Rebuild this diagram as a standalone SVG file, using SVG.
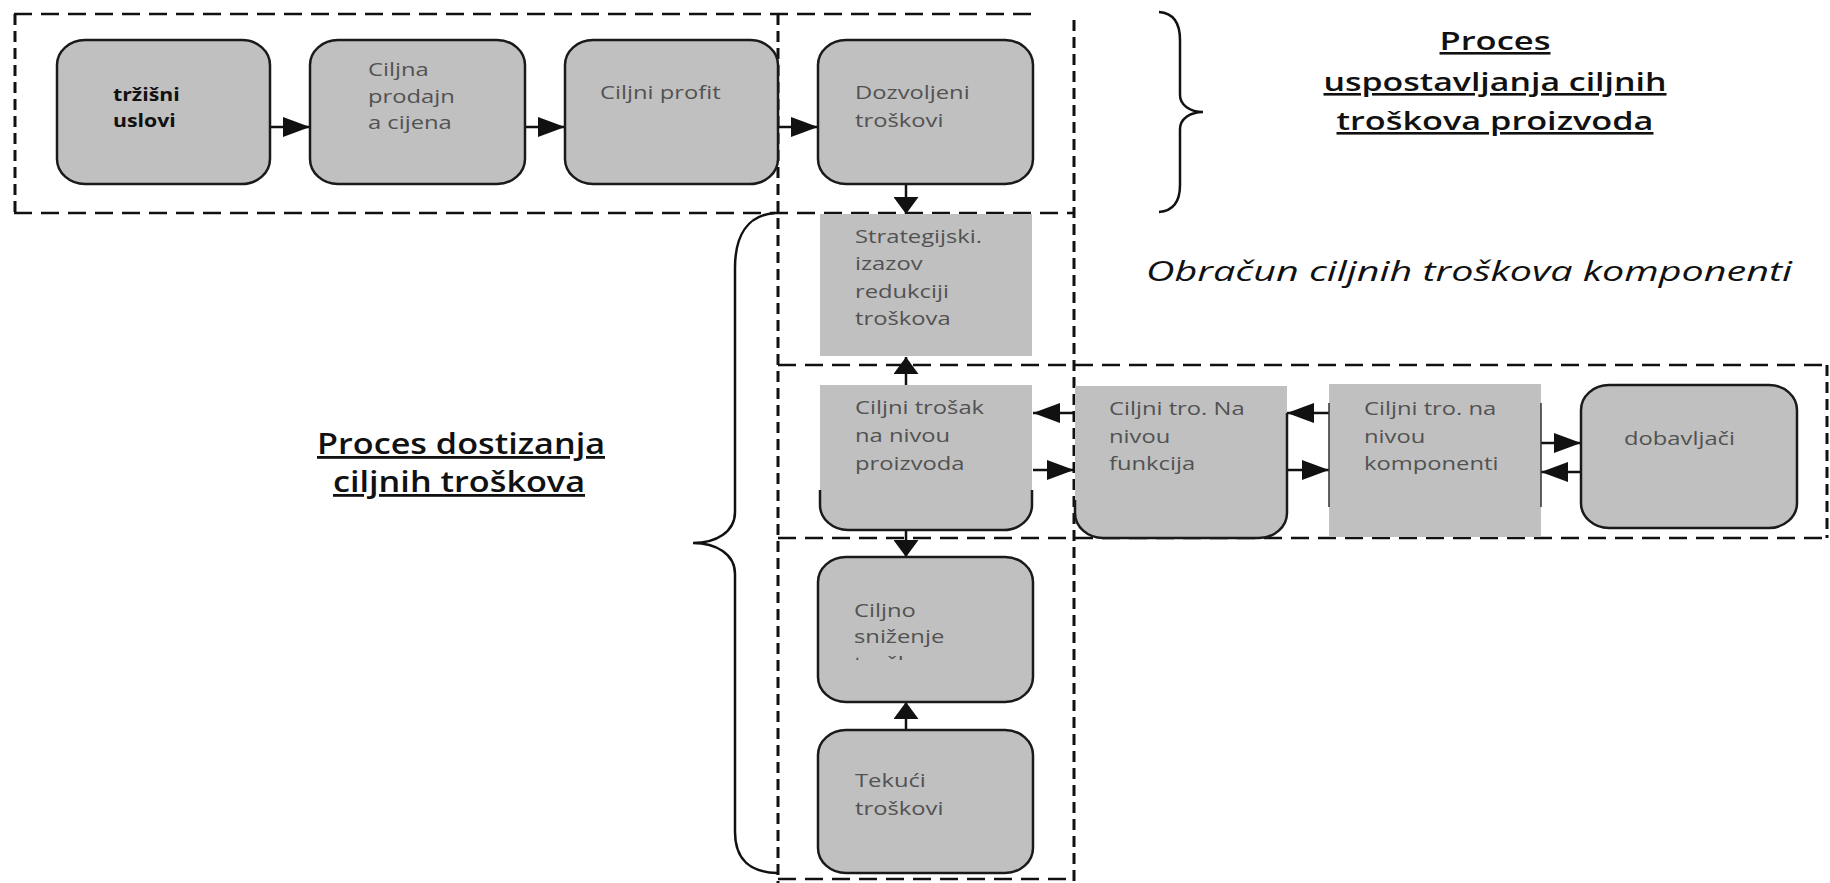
<svg xmlns="http://www.w3.org/2000/svg" width="1830" height="883" viewBox="0 0 1830 883">
<style>
.box{fill:#c0c0c0;stroke:#1a1a1a;stroke-width:2.5}
.fill{fill:#c0c0c0;stroke:none}
.edge{fill:none;stroke:#1a1a1a;stroke-width:2.5}
.thin{fill:none;stroke:#333;stroke-width:1.5}
.lbl{font-family:"Open Sans","Liberation Sans",sans-serif;font-size:19px;fill:#525252}
.bold{font-family:"Open Sans","Liberation Sans",sans-serif;font-size:17px;font-weight:700;fill:#111}
.title{font-family:"Open Sans","Liberation Sans",sans-serif;font-weight:600;fill:#111;text-decoration:underline}
.dh{stroke:#111;stroke-width:2.5;stroke-dasharray:18 9;fill:none}
.dv{stroke:#111;stroke-width:3;stroke-dasharray:11 6;fill:none}
.conn{stroke:#111;stroke-width:2.5;fill:none}
.brace{stroke:#111;stroke-width:2.5;fill:none}
</style>
<defs>
<marker id="ah" markerUnits="userSpaceOnUse" markerWidth="27" markerHeight="20" refX="27" refY="10" orient="auto" viewBox="0 0 27 20"><path d="M0,0 L27,10 L0,20 z" fill="#111"/></marker>
<marker id="av" markerUnits="userSpaceOnUse" markerWidth="17" markerHeight="25" refX="17" refY="12.5" orient="auto" viewBox="0 0 17 25"><path d="M0,0 L17,12.5 L0,25 z" fill="#111"/></marker>
<clipPath id="clipCiljno"><rect x="818" y="557" width="215" height="103"/></clipPath>
</defs>
<rect width="1830" height="883" fill="#fff"/>

<g id="frames">
<path class="dh" d="M14,14 H1031"/>
<path class="dv" d="M15,14 V213"/>
<path class="dh" d="M14,213 H1074"/>
<path class="dv" d="M778,14 V883"/>
<path class="dv" d="M1074,20 V883"/>
<path class="dh" d="M778,365 H1830"/>
<path class="dh" d="M778,538 H1830"/>
<path class="dh" d="M778,879 H1074"/>
<path class="dv" d="M1827,365 V538"/>
</g>

<g id="braces">
<path class="brace" d="M1159,12 C1172,13 1180,22 1180,40 L1180,95 C1180,105 1190,112 1203,112 C1190,112 1180,119 1180,129 L1180,185 C1180,203 1172,211 1159,212"/>
<path class="brace" d="M775,213 C748,215 735,235 735,268 L735,512 C735,532 716,543 693,543 C716,543 735,554 735,574 L735,832 C735,860 750,872 777,873"/>
</g>

<g id="titles">
<text class="title" font-size="26" text-anchor="middle" x="1495" y="50" textLength="111" lengthAdjust="spacingAndGlyphs">Proces</text>
<text class="title" font-size="26" text-anchor="middle" x="1495" y="91" textLength="343" lengthAdjust="spacingAndGlyphs">uspostavljanja ciljnih</text>
<text class="title" font-size="26" text-anchor="middle" x="1495" y="130" textLength="317" lengthAdjust="spacingAndGlyphs">troškova proizvoda</text>
<text class="title" font-size="28" text-anchor="middle" x="461" y="454" textLength="288" lengthAdjust="spacingAndGlyphs">Proces dostizanja</text>
<text class="title" font-size="28" text-anchor="middle" x="459" y="492" textLength="252" lengthAdjust="spacingAndGlyphs">ciljnih troškova</text>
<text font-family="'Open Sans','Liberation Sans',sans-serif" font-size="28" font-style="italic" font-weight="500" fill="#111" x="1146" y="281" textLength="646" lengthAdjust="spacingAndGlyphs">Obračun ciljnih troškova komponenti</text>
</g>

<g id="connectors">
<path class="conn" d="M270,127 H310" marker-end="url(#ah)"/>
<path class="conn" d="M525,127 H565" marker-end="url(#ah)"/>
<path class="conn" d="M778,127 H818" marker-end="url(#ah)"/>
<path class="conn" d="M906,184 V214" marker-end="url(#av)"/>
<path class="conn" d="M906,385 V357" marker-end="url(#av)"/>
<path class="conn" d="M1074,413 H1033" marker-end="url(#ah)"/>
<path class="conn" d="M1033,470 H1074" marker-end="url(#ah)"/>
<path class="conn" d="M906,530 V557" marker-end="url(#av)"/>
<path class="conn" d="M1329,413 H1287" marker-end="url(#ah)"/>
<path class="conn" d="M1287,470 H1329" marker-end="url(#ah)"/>
<path class="conn" d="M1541,443 H1581" marker-end="url(#ah)"/>
<path class="conn" d="M1581,472 H1541" marker-end="url(#ah)"/>
<path class="conn" d="M906,730 V702" marker-end="url(#av)"/>
</g>

<g id="trzisni-uslovi">
<rect class="box" x="57" y="40" width="213" height="144" rx="28" ry="25"/>
<text class="bold" transform="matrix(1.25 0 0 1 113 0)"><tspan x="0" y="101">tržišni</tspan><tspan x="0" y="127">uslovi</tspan></text>
</g>

<g id="ciljna-prodajna-cijena">
<rect class="box" x="310" y="40" width="215" height="144" rx="28" ry="25"/>
<text class="lbl" transform="matrix(1.25 0 0 1 368 0)"><tspan x="0" y="76">Ciljna</tspan><tspan x="0" y="103">prodajn</tspan><tspan x="0" y="129">a cijena</tspan></text>
</g>

<g id="ciljni-profit">
<rect class="box" x="565" y="40" width="213" height="144" rx="28" ry="25"/>
<text class="lbl" transform="matrix(1.25 0 0 1 600 0)"><tspan x="0" y="99">Ciljni profit</tspan></text>
</g>

<g id="dozvoljeni-troskovi">
<rect class="box" x="818" y="40" width="215" height="144" rx="28" ry="25"/>
<text class="lbl" transform="matrix(1.25 0 0 1 855 0)"><tspan x="0" y="99">Dozvoljeni</tspan><tspan x="0" y="127">troškovi</tspan></text>
</g>

<g id="strategijski-izazov">
<rect class="fill" x="820" y="214" width="212" height="142"/>
<text class="lbl" transform="matrix(1.25 0 0 1 855 0)"><tspan x="0" y="243">Strategijski.</tspan><tspan x="0" y="270">izazov</tspan><tspan x="0" y="298">redukciji</tspan><tspan x="0" y="325">troškova</tspan></text>
</g>

<g id="ciljni-trosak-proizvoda">
<path class="fill" d="M820,385 H1032 V505 A28,25 0 0 1 1004,530 H848 A28,25 0 0 1 820,505 Z"/>
<path class="edge" d="M820,490 V505 A28,25 0 0 0 848,530 H1004 A28,25 0 0 0 1032,505 V490"/>
<text class="lbl" transform="matrix(1.25 0 0 1 855 0)"><tspan x="0" y="414">Ciljni trošak</tspan><tspan x="0" y="442">na nivou</tspan><tspan x="0" y="470">proizvoda</tspan></text>
</g>

<g id="ciljni-tro-funkcija">
<path class="fill" d="M1075,386 H1287 V513 A28,25 0 0 1 1259,538 H1103 A28,25 0 0 1 1075,513 Z"/>
<path class="edge" d="M1075,500 V513 A28,25 0 0 0 1103,538 H1259 A28,25 0 0 0 1287,513 V413"/>
<text class="lbl" transform="matrix(1.25 0 0 1 1109 0)"><tspan x="0" y="415">Ciljni tro. Na</tspan><tspan x="0" y="443">nivou</tspan><tspan x="0" y="470">funkcija</tspan></text>
</g>

<g id="ciljni-tro-komponenti">
<rect class="fill" x="1329" y="384" width="212" height="153"/>
<path class="thin" d="M1329,403 V507 M1541,403 V507"/>
<text class="lbl" transform="matrix(1.25 0 0 1 1364 0)"><tspan x="0" y="415">Ciljni tro. na</tspan><tspan x="0" y="443">nivou</tspan><tspan x="0" y="470">komponenti</tspan></text>
</g>

<g id="dobavljaci">
<rect class="box" x="1581" y="385" width="216" height="143" rx="28" ry="25"/>
<text class="lbl" transform="matrix(1.25 0 0 1 1624 0)"><tspan x="0" y="445">dobavljači</tspan></text>
</g>

<g id="ciljno-snizenje">
<rect class="box" x="818" y="557" width="215" height="145" rx="28" ry="25"/>
<text class="lbl" transform="matrix(1.25 0 0 1 854 0)"><tspan x="0" y="617">Ciljno</tspan><tspan x="0" y="643">sniženje</tspan></text>
<g clip-path="url(#clipCiljno)"><text class="lbl" transform="matrix(1.25 0 0 1 854 0)"><tspan x="0" y="670">troškova</tspan></text></g>
</g>

<g id="tekuci-troskovi">
<rect class="box" x="818" y="730" width="215" height="143" rx="28" ry="25"/>
<text class="lbl" transform="matrix(1.25 0 0 1 855 0)"><tspan x="0" y="787">Tekući</tspan><tspan x="0" y="815">troškovi</tspan></text>
</g>
</svg>
